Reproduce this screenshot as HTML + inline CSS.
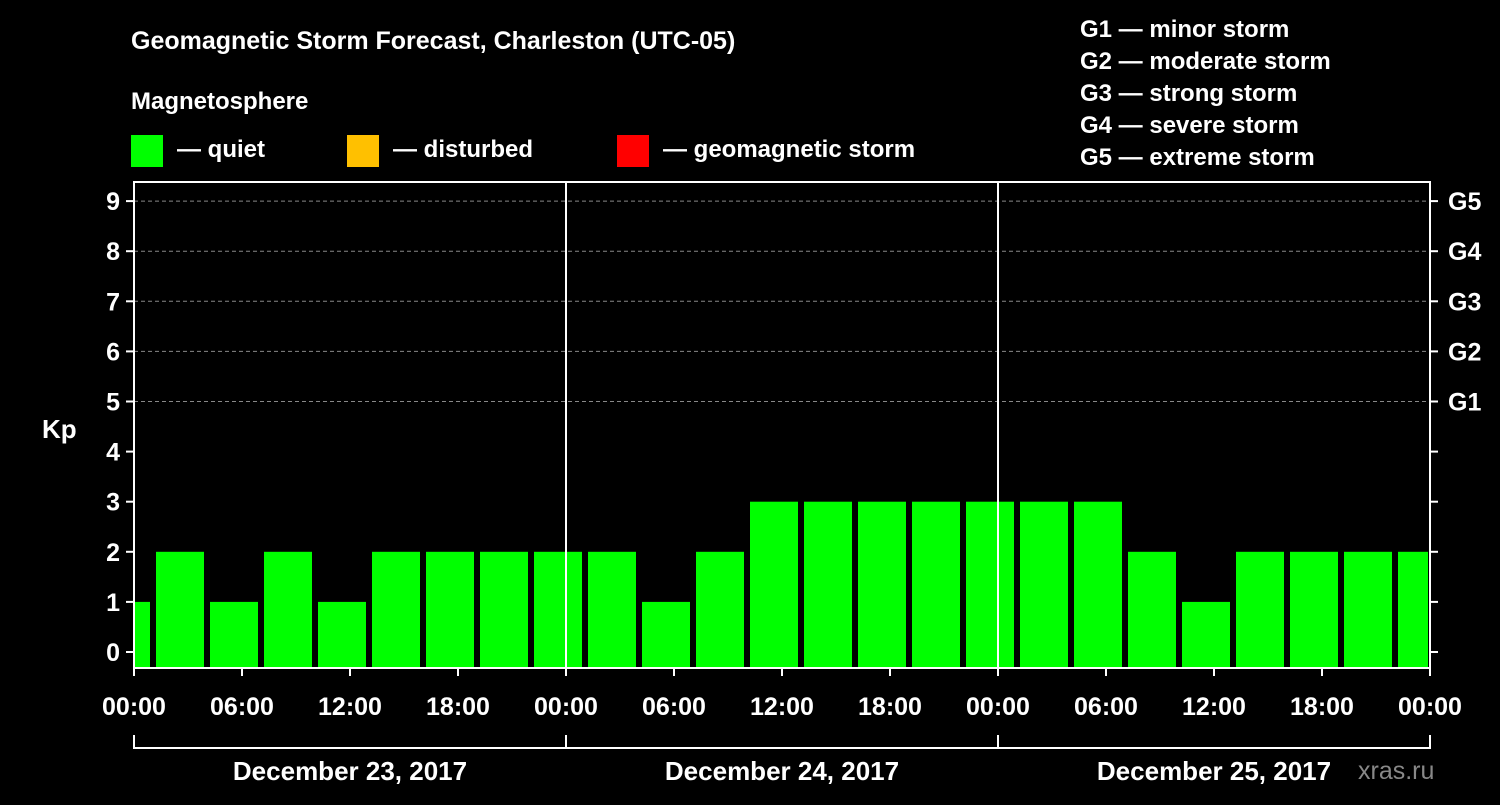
<!DOCTYPE html>
<html><head><meta charset="utf-8"><style>
body{margin:0;background:#000;width:1500px;height:800px;overflow:hidden}
svg text{font-family:"Liberation Sans",Arial,sans-serif;font-weight:bold;fill:#fff}
</style></head><body>
<svg id="c" width="1500" height="800">
<text x="131" y="49" font-size="25">Geomagnetic Storm Forecast, Charleston (UTC-05)</text>
<text x="131" y="109" font-size="24">Magnetosphere</text>
<rect x="131" y="135" width="32" height="32" fill="#00ff00"/>
<text x="177" y="157" font-size="24">— quiet</text>
<rect x="347" y="135" width="32" height="32" fill="#ffc000"/>
<text x="393" y="157" font-size="24">— disturbed</text>
<rect x="617" y="135" width="32" height="32" fill="#ff0000"/>
<text x="663" y="157" font-size="24">— geomagnetic storm</text>
<g font-size="24">
<text x="1080" y="37">G1 — minor storm</text>
<text x="1080" y="69">G2 — moderate storm</text>
<text x="1080" y="101">G3 — strong storm</text>
<text x="1080" y="133">G4 — severe storm</text>
<text x="1080" y="165">G5 — extreme storm</text>
</g>
<text x="42" y="438" font-size="26">Kp</text>
<text x="1358" y="779" font-size="25" fill="#888" style="fill:#888;font-weight:normal">xras.ru</text>
<g id="g"></g>
</svg>
<script>
const kpValues=[1,2,1,2,1,2,2,2,2,2,1,2,3,3,3,3,3,3,3,2,1,2,2,2,2];
const yTicks=[0,1,2,3,4,5,6,7,8,9];
const gLabels={5:"G1",6:"G2",7:"G3",8:"G4",9:"G5"};
const xTickLabels=["00:00","06:00","12:00","18:00","00:00","06:00","12:00","18:00","00:00","06:00","12:00","18:00","00:00"];
const dayLabels=["December 23, 2017","December 24, 2017","December 25, 2017"];
const L=134,R=1430,T=182,B=668,pxH=18;
const y=v=>652-v*50.1;
const x=h=>L+h*pxH;
const g=document.getElementById('g');
const NS="http://www.w3.org/2000/svg";
function mk(t,a){const e=document.createElementNS(NS,t);for(const k in a)e.setAttribute(k,a[k]);g.appendChild(e);return e;}
yTicks.forEach(v=>{
 if(v>=5){const l=mk('line',{x1:L,x2:R,y1:y(v),y2:y(v),stroke:'#888','stroke-dasharray':'4,3','stroke-width':1});
 
 }
 const t=mk('line',{x1:L-8,x2:L,y1:y(v),y2:y(v),stroke:'#fff','stroke-width':2});
 
 
 const t2=mk('line',{x1:R,x2:R+8,y1:y(v),y2:y(v),stroke:'#fff','stroke-width':2});
 
 
 const tx=mk('text',{x:L-14,y:y(v)+9,'font-size':25,'text-anchor':'end'});tx.textContent=v;
 
 
 if(gLabels[v]){const gt=mk('text',{x:R+18,y:y(v)+9,'font-size':25});gt.textContent=gLabels[v];
 
 }
});
kpValues.forEach((v,i)=>{
 let x0=x(3*i-2)+4,x1=x0+48;x0=Math.max(x0,L+1);x1=Math.min(x1,R-2);
 const col=v<4?'#00ff00':(v<5?'#ffc000':'#ff0000');
 const b=mk('rect',{x:x0,y:y(v),width:x1-x0,height:B-y(v),fill:col});
 
 
});
[1,2].forEach(d=>{const l=mk('line',{x1:x(24*d),x2:x(24*d),y1:T,y2:B,stroke:'#fff','stroke-width':2});
 
 });
const f=mk('rect',{x:L,y:T,width:R-L,height:B-T,fill:'none',stroke:'#fff','stroke-width':2});


xTickLabels.forEach((s,i)=>{
 const xx=x(i*6);
 const t=mk('line',{x1:xx,x2:xx,y1:B,y2:B+8,stroke:'#fff','stroke-width':2});
 
 
 const tx=mk('text',{x:xx,y:715,'font-size':25,'text-anchor':'middle'});tx.textContent=s;
 
 
});
const br=mk('line',{x1:L,x2:R,y1:748,y2:748,stroke:'#fff','stroke-width':2});


[0,1,2,3].forEach(d=>{const l=mk('line',{x1:x(24*d),x2:x(24*d),y1:735,y2:749,stroke:'#fff','stroke-width':2});
 
 });
dayLabels.forEach((s,i)=>{const tx=mk('text',{x:x(24*i+12),y:780,'font-size':26,'text-anchor':'middle'});tx.textContent=s;
 
 });
</script>
</body></html>
